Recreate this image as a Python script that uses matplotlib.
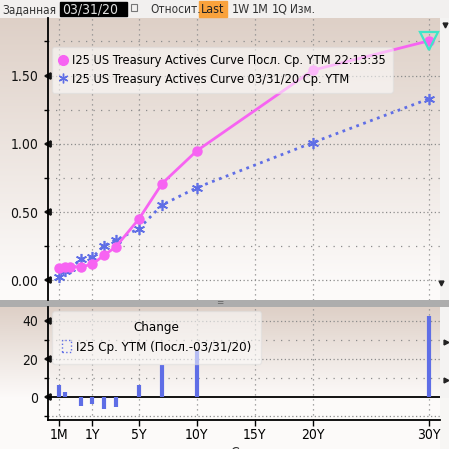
import numpy as np
import matplotlib
matplotlib.use("Agg")
import matplotlib.pyplot as plt
from matplotlib.lines import Line2D
from matplotlib.patches import Patch, Rectangle

plt.rcParams['font.family'] = ['DejaVu Sans']
plt.rcParams['font.stretch'] = 'condensed'

# данные кривой
tenors = ['1M', '2M', '3M', '6M', '1Y', '2Y', '3Y', '5Y', '7Y', '10Y', '20Y', '30Y']
years = [1/12, 2/12, 3/12, 0.5, 1, 2, 3, 5, 7, 10, 20, 30]
ytm_last = [0.09, 0.095, 0.10, 0.10, 0.12, 0.185, 0.245, 0.45, 0.71, 0.95, 1.54, 1.755]
ytm_prev = [0.023, 0.07, 0.09, 0.155, 0.17, 0.255, 0.295, 0.38, 0.553, 0.68, 1.01, 1.33]

# изменение, б.п. (без 20Y)
chg_years = [1/12, 2/12, 3/12, 0.5, 1, 2, 3, 5, 7, 10, 30]
chg_bp = [6.4, 2.6, 0.0, -4.5, -3.5, -6.3, -5.2, 6.4, 16.9, 24.0, 42.6]

tick_years = [1/12, 1, 5, 10, 15, 20, 30]
tick_labels = ['1M', '1Y', '5Y', '10Y', '15Y', '20Y', '30Y']

# нелинейная шкала сроков как у Bloomberg
knot_t = [0, 1/12, 2/12, 0.25, 0.5, 1, 50]
knot_u = [-3.0, -1.93, -1.41, -0.98, 0.05, 1, 50]
fwd = lambda t: np.interp(t, knot_t, knot_u)
inv = lambda u: np.interp(u, knot_u, knot_t)

PINK = '#f763f2'
BLUE = '#5f6ee6'
GRID = '#8c8c8c'
W, H = 449, 449

fig = plt.figure(figsize=(W / 100, H / 100), dpi=100)

# фон с градиентом
bg = np.ones((H, W, 3))
bg[:, :] = [0.96, 0.955, 0.95]
top_c = np.array([222, 208, 199]) / 255
low_c = np.array([252, 250, 249]) / 255
for y0, y1 in [(18, 282), (307, 398)]:
    f = np.linspace(0, 1, y1 - y0)[:, None, None]
    bg[y0:y1, :440] = top_c * (1 - f) + low_c * f
bg[282:300, :440] = low_c
bg[398:, :440] = low_c
bg[398:, 440:] = [0.97, 0.965, 0.96]
bg[300:307, :] = [0.68, 0.68, 0.68]
bg[0:18, :] = [0.95, 0.945, 0.94]
bax = fig.add_axes([0, 0, 1, 1], zorder=-5)
bax.imshow(bg, aspect='auto', extent=(0, W, H, 0))
bax.set_xlim(0, W)
bax.set_ylim(H, 0)
bax.axis('off')

# панель инструментов сверху
bax.add_patch(Rectangle((60, 2), 67, 14, color='black'))
bax.add_patch(Rectangle((199, 1), 28, 16, color='#f9a23c'))
bax.add_patch(Rectangle((131, 4), 6, 7, fill=False, ec='#777777', lw=0.8))
for x, s, c, fs in [(2, 'Заданная', '#333333', 8.5), (62, '03/31/20', '#e0e0e0', 10),
                    (150, 'Относит.', '#333333', 8.5), (201, 'Last', '#222222', 9),
                    (232, '1W', '#333333', 9), (252, '1M', '#333333', 9),
                    (272, '1Q', '#333333', 9), (290, 'Изм.', '#333333', 8.5)]:
    bax.text(x, 9.5, s, color=c, fontsize=fs, va='center', ha='left')
bax.text(220, 303.5, '=', color='#666666', fontsize=7, ha='center', va='center')
for x, y, m in [(445, 25, 'v'), (441, 283, 'v'), (446, 342, '>'), (446, 380, '>')]:
    bax.plot(x, y, marker=m, color='#222222', markersize=3.5)
bax.text(230, 446, 'Срок', fontsize=10, va='top', ha='left', color='#333333')

L, R = 48 / W, 440 / W
ax = fig.add_axes([L, (H - 300) / H, R - L, 282 / H])
ax2 = fig.add_axes([L, (H - 420) / H, R - L, 113 / H])

for a in (ax, ax2):
    a.set_facecolor('none')
    a.set_xscale('function', functions=(fwd, inv))
    a.set_xlim(0.0128, 30.96)
    a.set_xticks(tick_years)
    for s in ('top', 'right'):
        a.spines[s].set_visible(False)
    a.spines['left'].set_linewidth(1.3)
    for x in tick_years:
        a.axvline(x, color=GRID, lw=0.9, ls=(0, (1, 3)), zorder=0)

# верхняя панель
ax.set_ylim(-0.143, 1.922)
ax.set_yticks([0, 0.5, 1.0, 1.5])
ax.set_yticklabels(['0.00', '0.50', '1.00', '1.50'])
ax.set_yticks([0.25, 0.75, 1.25, 1.75], minor=True)
ax.spines['bottom'].set_visible(False)
ax.tick_params(axis='x', bottom=False, labelbottom=False)
for v in [0, 0.5, 1.0, 1.5]:
    ax.axhline(v, color=GRID, lw=0.9, ls=(0, (1, 2)), zorder=0)
for v in [0.25, 0.75, 1.25, 1.75]:
    ax.axhline(v, color=GRID, lw=0.9, ls=(0, (1, 5)), zorder=0)

ax.plot(years, ytm_prev, color=BLUE, lw=2, ls=':', marker=(6, 2, 0),
        markersize=8, markeredgewidth=1.2, zorder=3)
ax.plot(years, ytm_last, color=PINK, lw=2, marker='o', markersize=6.5, zorder=4)
ax.plot(years[-1], ytm_last[-1], marker='v', markersize=13, mfc='none',
        mec='#3ee6c8', mew=1.6, zorder=5, clip_on=False)

handles = [Line2D([], [], color=PINK, marker='o', ls='none', markersize=7),
           Line2D([], [], color=BLUE, marker=(6, 2, 0), ls='none', markersize=7)]
leg = ax.legend(handles, ['I25 US Treasury Actives Curve Посл. Ср. YTM 22:13:35',
                          'I25 US Treasury Actives Curve 03/31/20 Ср. YTM'],
                loc='upper left', bbox_to_anchor=(0.01, 0.897), borderaxespad=0,
                fontsize=9.2, handlelength=0.6, handletextpad=0.4,
                labelspacing=0.45, borderpad=0.55, fancybox=True, framealpha=0.55,
                facecolor='white', edgecolor='#dddddd')

# нижняя панель
ax2.set_ylim(-11.85, 47.2)
ax2.set_yticks([0, 20, 40])
ax2.set_yticks([-10, 10, 30], minor=True)
ax2.set_xticklabels(tick_labels)
ax2.spines['bottom'].set_linewidth(1.3)
for v in [-10, 20, 40]:
    ax2.axhline(v, color=GRID, lw=0.9, ls=(0, (1, 2)), zorder=0)
for v in [10, 30]:
    ax2.axhline(v, color=GRID, lw=0.9, ls=(0, (1, 5)), zorder=0)
ax2.axhline(0, color='black', lw=1.3, zorder=2)
ax2.vlines(chg_years, 0, chg_bp, color=BLUE, lw=3, zorder=3)

leg2 = ax2.legend([Patch(fill=False, ec=BLUE, ls=':', lw=1)],
                  ['I25 Ср. YTM (Посл.-03/31/20)'], title='Change',
                  loc='upper left', bbox_to_anchor=(0.01, 0.965), borderaxespad=0,
                  fontsize=9.5, title_fontsize=9.5, handlelength=0.7,
                  handleheight=1.0, handletextpad=0.4, borderpad=0.75,
                  fancybox=True, framealpha=0.55, facecolor='white',
                  edgecolor='#dddddd')

for a in (ax, ax2):
    a.tick_params(axis='y', which='major', length=6, width=1.3, labelsize=10,
                  colors='#111111', pad=1)
    a.tick_params(axis='y', which='minor', length=3, width=1)
    for t in a.yaxis.get_major_ticks():
        t.tick1line.set_marker('<')
        t.tick1line.set_markersize(5)
ax2.tick_params(axis='x', length=4, width=1, labelsize=10, pad=2)

fig.savefig('out.png', dpi=100)
